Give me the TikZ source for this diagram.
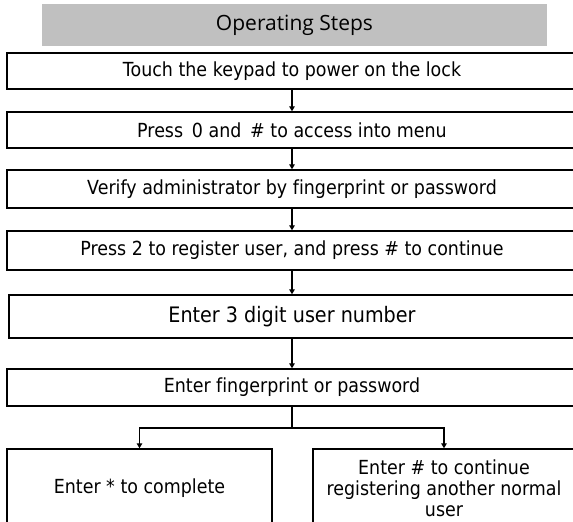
\documentclass[tikz,border=0pt]{standalone}
\usepackage{fontspec}
\setmainfont[FakeStretch=0.9,Ligatures=NoCommon]{DejaVu Sans}
\newfontfamily\titlefont{Open Sans}
\usetikzlibrary{arrows.meta}
\definecolor{titlegray}{RGB}{192,192,192}
\begin{document}
\begin{tikzpicture}[x=1pt,y=-1pt,
  stepbox/.style={draw=black,line width=1.4pt,rectangle,inner sep=0pt,
    font=\fontsize{19.4}{21}\selectfont,align=center},
  conn/.style={line width=1.2pt,-{Triangle[length=5pt,width=5.5pt]}},
  plain/.style={line width=1.2pt}]
\useasboundingbox (0,0) rectangle (573,522);
\node[fill=titlegray,minimum width=505pt,minimum height=42pt,inner sep=0pt,
  font=\titlefont\fontsize{21}{24}\selectfont] (title) at (294.5,25) {Operating Steps};
\node[stepbox,minimum width=570pt,minimum height=36pt] (b1) at (292,71) {Touch the keypad to power on the lock};
\node[stepbox,minimum width=570pt,minimum height=36pt] (b2) at (292,130) {Press \,0 and \,\# to access into menu};
\node[stepbox,minimum width=570pt,minimum height=38pt] (b3) at (292,189) {Verify administrator by fingerprint or password};
\node[stepbox,minimum width=570pt,minimum height=39pt] (b4) at (292,250.5) {Press 2 to register user, and press \# to continue};
\node[stepbox,minimum width=566pt,minimum height=43pt,font=\fontsize{21.3}{24}\selectfont] (b5) at (292,316.5) {Enter 3 digit user number};
\node[stepbox,minimum width=570pt,minimum height=37pt] (b6) at (292,387.5) {Enter fingerprint or password};
\node[stepbox,minimum width=265pt,minimum height=78pt] (bl) at (139.5,488) {Enter * to complete};
\node[stepbox,minimum width=262pt,minimum height=78pt] (br) at (444,488) {Enter \# to continue\\registering another normal\\user};
\coordinate (split) at (292,428);
\draw[conn] (b1) -- (b2);
\draw[conn] (b2) -- (b3);
\draw[conn] (b3) -- (b4);
\draw[conn] (b4) -- (b5);
\draw[conn] (b5) -- (b6);
\draw[plain] (b6.south) -- (split);
\draw[conn] (split) -| (bl.north);
\draw[conn] (split) -| (br.north);
\end{tikzpicture}
\end{document}
